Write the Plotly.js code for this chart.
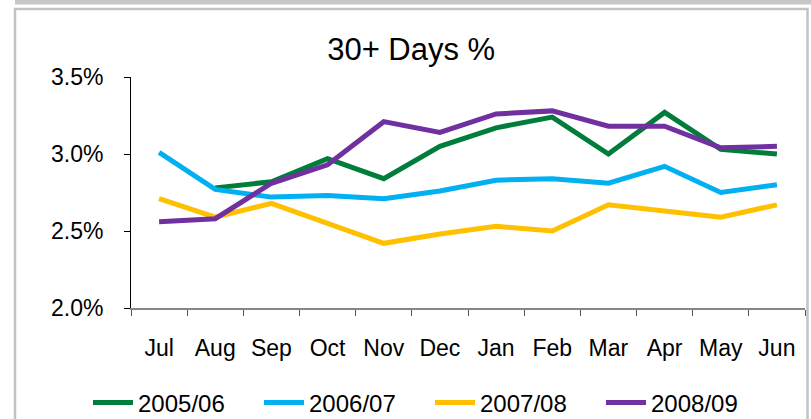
<!DOCTYPE html>
<html>
<head>
<meta charset="utf-8">
<script src="https://cdn.plot.ly/plotly-3.0.1.min.js"></script>
<style>html,body{margin:0;padding:0;background:#fff;}#chart{width:811px;height:419px;}</style>
</head>
<body>
<div id="chart"></div>
<script>
const months = ["Jul","Aug","Sep","Oct","Nov","Dec","Jan","Feb","Mar","Apr","May","Jun"];
const seriesNames = ["2005/06","2006/07","2007/08","2008/09"];
const fy0506 = [null, 2.78, 2.82, 2.97, 2.84, 3.05, 3.17, 3.24, 3.00, 3.27, 3.03, 3.00];
const fy0607 = [3.01, 2.77, 2.72, 2.73, 2.71, 2.76, 2.83, 2.84, 2.81, 2.92, 2.75, 2.80];
const fy0708 = [2.71, 2.59, 2.68, 2.55, 2.42, 2.48, 2.53, 2.50, 2.67, 2.63, 2.59, 2.67];
const fy0809 = [2.56, 2.58, 2.81, 2.93, 3.21, 3.14, 3.26, 3.28, 3.18, 3.18, 3.04, 3.05];
const colors = ["#007D3A","#00B0F0","#FFC000","#7030A0"];
const yTicks = [2.0, 2.5, 3.0, 3.5];

const allSeries = [fy0506, fy0607, fy0708, fy0809];
const traces = allSeries.map((vals, i) => ({
  type: "scatter",
  mode: "lines",
  x: months,
  y: vals,
  name: seriesNames[i],
  line: {color: colors[i], width: 5},
  connectgaps: false,
  hoverinfo: "skip"
}));

// pixel -> paper helpers for decorative frame
const L = 131, R = 805, T = 77, B = 308;
const px = v => (v - L) / (R - L);
const py = v => (B - v) / (B - T);

const layout = {
  width: 811, height: 419,
  margin: {l: L, r: 811 - R, t: T, b: 419 - B, autoexpand: false},
  paper_bgcolor: "#ffffff",
  plot_bgcolor: "#ffffff",
  font: {family: "Liberation Sans, Arial, sans-serif", color: "#000"},
  title: {
    text: "30+ Days %",
    font: {size: 31, color: "#000"},
    xref: "container", yref: "container",
    x: 0.507, y: 1 - 49 / 419, xanchor: "center", yanchor: "middle"
  },
  showlegend: true,
  legend: {
    orientation: "h",
    x: px(88), xanchor: "left",
    y: py(403), yanchor: "middle",
    font: {size: 24, color: "#000"},
    entrywidth: 116,
    entrywidthmode: "pixels",
    itemwidth: 40,
    tracegroupgap: 0,
    bgcolor: "rgba(0,0,0,0)"
  },
  xaxis: {
    type: "category",
    categoryorder: "array",
    categoryarray: months,
    range: [-0.5, 11.5],
    showline: true, linecolor: "#868686", linewidth: 1.5,
    ticks: "outside", ticklen: 6, tickcolor: "#555", tickwidth: 1,
    tickson: "boundaries",
    showgrid: false, zeroline: false,
    tickfont: {size: 23, color: "#000"},
    ticklabelstandoff: 19,
    automargin: false,
    fixedrange: true
  },
  yaxis: {
    range: [2.0, 3.5],
    tickvals: yTicks,
    ticktext: yTicks.map(v => v.toFixed(1) + "%"),
    showline: true, linecolor: "#000", linewidth: 1,
    ticks: "outside", ticklen: 6, tickcolor: "#000", tickwidth: 1,
    showgrid: false, zeroline: false,
    tickfont: {size: 23, color: "#000"},
    ticklabelstandoff: 16,
    automargin: false,
    fixedrange: true
  },
  shapes: [
    {type: "rect", xref: "paper", yref: "paper", layer: "below",
     x0: px(15), x1: px(811), y0: py(4.5), y1: py(-1),
     line: {width: 0}, fillcolor: "#c6c6c6"},
    {type: "rect", xref: "paper", yref: "paper", layer: "below",
     x0: px(15), x1: px(807.5), y0: py(440), y1: py(9),
     line: {width: 2.5, color: "#c3c3c3"}, fillcolor: "rgba(0,0,0,0)"}
  ]
};

Plotly.newPlot("chart", traces, layout, {staticPlot: true, displayModeBar: false});
</script>
</body>
</html>
